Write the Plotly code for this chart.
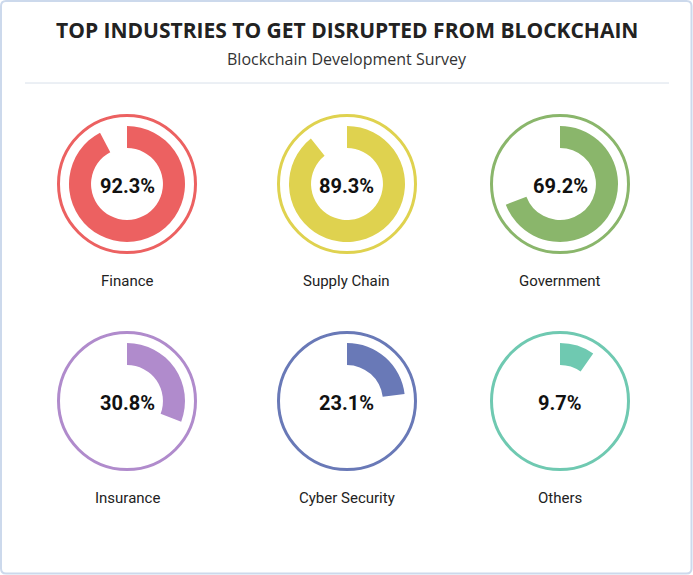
import plotly.graph_objects as go

W, H = 693, 575

# data
industries = ["Finance", "Supply Chain", "Government", "Insurance", "Cyber Security", "Others"]
shares = [92.3, 89.3, 69.2, 30.8, 23.1, 9.7]
colors = ["#EC6161", "#DFD24F", "#8AB66B", "#B08BCC", "#6979B7", "#6FC9B1"]

# pixel layout of the 3x2 grid
col_x = [127, 347, 560]
row_y = [184, 401]
ring_r = 68.5
arc_r = 58

fig = go.Figure()

annotations = []
shapes = []


def px(x):
    return x / W


def py(y):
    return 1 - y / H


def label(x, y, text, size, color, family="Roboto"):
    return dict(
        x=px(x), y=py(y), xref="paper", yref="paper",
        xanchor="center", yanchor="middle",
        text=text, showarrow=False,
        font=dict(family=family, size=size, color=color),
    )


for i, (name, val, col) in enumerate(zip(industries, shares, colors)):
    cx = col_x[i % 3]
    cy = row_y[i // 3]
    fig.add_trace(go.Pie(
        values=[val, 100 - val],
        sort=False,
        direction="clockwise",
        rotation=0,
        hole=0.62,
        marker=dict(colors=[col, "rgba(0,0,0,0)"], line=dict(width=0)),
        textinfo="none",
        hoverinfo="skip",
        showlegend=False,
        domain=dict(x=[px(cx - arc_r), px(cx + arc_r)],
                    y=[py(cy + arc_r), py(cy - arc_r)]),
    ))
    # outer thin ring
    shapes.append(dict(
        type="circle", xref="paper", yref="paper",
        xsizemode="pixel", ysizemode="pixel",
        xanchor=px(cx), yanchor=py(cy),
        x0=-ring_r, x1=ring_r, y0=-ring_r, y1=ring_r,
        line=dict(color=col, width=3),
    ))
    annotations.append(label(cx, cy + 2, f"<b>{val}%</b>", 20, "#111111"))
    annotations.append(label(cx, cy + 97, name, 15, "#222222"))

# title and subtitle
annotations.append(label(346.5, 30, "<b>TOP INDUSTRIES TO GET DISRUPTED FROM BLOCKCHAIN</b>",
                         21, "#222222", "Open Sans"))
annotations.append(label(346.5, 59, "Blockchain Development Survey", 16, "#333333", "Open Sans"))

# separator line
shapes.append(dict(
    type="line", xref="paper", yref="paper",
    x0=px(25), x1=px(669), y0=py(83), y1=py(83),
    line=dict(color="#D8E0EA", width=1),
))

# rounded card border
r = 5
x0, x1, y0, y1 = 1, 691.5, 1, 573.5
path = (
    f"M {px(x0 + r)} {py(y0)} L {px(x1 - r)} {py(y0)} "
    f"Q {px(x1)} {py(y0)} {px(x1)} {py(y0 + r)} "
    f"L {px(x1)} {py(y1 - r)} Q {px(x1)} {py(y1)} {px(x1 - r)} {py(y1)} "
    f"L {px(x0 + r)} {py(y1)} Q {px(x0)} {py(y1)} {px(x0)} {py(y1 - r)} "
    f"L {px(x0)} {py(y0 + r)} Q {px(x0)} {py(y0)} {px(x0 + r)} {py(y0)} Z"
)
shapes.append(dict(
    type="path", xref="paper", yref="paper", path=path,
    line=dict(color="#CCD9EC", width=2),
))

fig.update_layout(
    width=W, height=H,
    margin=dict(l=0, r=0, t=0, b=0),
    paper_bgcolor="white",
    plot_bgcolor="white",
    shapes=shapes,
    annotations=annotations,
)

# drop the default page margin so the card fills the window
fig.write_html("out.html", config={"displayModeBar": False},
               post_script="document.body.style.margin='0';")
